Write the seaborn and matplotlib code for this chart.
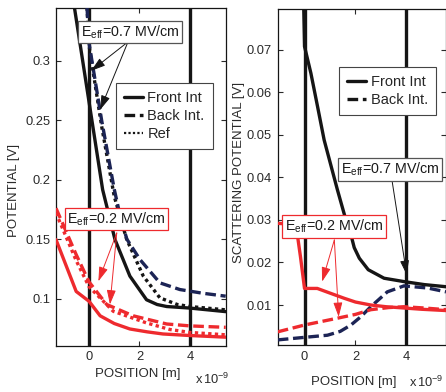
import numpy as np
import pandas as pd
import matplotlib
matplotlib.use("Agg")
import matplotlib.pyplot as plt
from matplotlib.lines import Line2D
import seaborn as sns

# ---------------- data ----------------
# Left panel: POTENTIAL [V] vs POSITION [x1e-9 m]
l_front07_x = [-0.58, -0.38, 0.0, 0.54, 1.03, 1.62, 2.28, 2.7, 3.08, 4.0, 5.42]
l_front07_y = [0.345, 0.3176, 0.2655, 0.1916, 0.1496, 0.1189, 0.099, 0.095, 0.0933, 0.092, 0.089]
l_back07_x = [-0.08, 0.0, 0.5, 1.0, 1.25, 1.5, 2.02, 2.81, 3.6, 4.5, 5.42]
l_back07_y = [0.345, 0.315, 0.25, 0.192, 0.168, 0.150, 0.1328, 0.1132, 0.1076, 0.1045, 0.102]
l_ref07_x = [-0.08, 0.0, 0.5, 1.0, 1.49, 2.15, 2.81, 3.5, 4.0, 5.42]
l_ref07_y = [0.345, 0.313, 0.245, 0.186, 0.150, 0.119, 0.1006, 0.095, 0.0933, 0.0905]
l_front02_x = [-1.31, -0.51, 0.0, 0.44, 1.0, 1.62, 2.3, 2.93, 4.0, 5.42]
l_front02_y = [0.1496, 0.106, 0.0977, 0.0855, 0.079, 0.0744, 0.072, 0.0702, 0.0689, 0.0675]
l_back02_x = [-1.31, -0.51, 0.0, 0.7, 1.75, 3.08, 4.0, 5.42]
l_back02_y = [0.176, 0.137, 0.114, 0.095, 0.0855, 0.0786, 0.077, 0.0758]
l_ref02_x = [-1.31, -0.51, 0.0, 0.96, 2.28, 3.2, 4.0, 5.42]
l_ref02_y = [0.172, 0.132, 0.110, 0.0893, 0.0795, 0.074, 0.0715, 0.0695]

# Right panel: SCATTERING POTENTIAL [V] vs POSITION [x1e-9 m]
r_front07_x = [-0.03, 0.0, 0.25, 0.51, 0.77, 1.29, 1.6, 1.8, 1.95, 2.15, 2.5, 3.12, 3.91, 4.7, 5.55]
r_front07_y = [0.0796, 0.0708, 0.0645, 0.0567, 0.0488, 0.0371, 0.0305, 0.027, 0.0235, 0.021, 0.0183, 0.0163, 0.0155, 0.0148, 0.0143]
r_back07_x = [-1.05, 0.0, 0.9, 1.4, 1.82, 2.2, 2.6, 3.25, 3.9, 4.83, 5.55]
r_back07_y = [0.0018, 0.0024, 0.0029, 0.0038, 0.0053, 0.0072, 0.0096, 0.0131, 0.0145, 0.014, 0.0131]
r_front02_x = [-1.05, -0.5, -0.35, -0.29, -0.16, 0.0, 0.5, 1.0, 1.55, 2.0, 2.6, 3.2, 3.9, 4.6, 5.55]
r_front02_y = [0.0292, 0.029, 0.028, 0.0269, 0.0214, 0.0139, 0.0139, 0.0128, 0.0116, 0.0107, 0.0100, 0.0096, 0.0093, 0.0090, 0.0087]
r_back02_x = [-1.05, 0.0, 1.29, 2.0, 2.6, 3.3, 3.9, 4.7, 5.55]
r_back02_y = [0.0037, 0.0053, 0.0069, 0.0078, 0.0089, 0.0094, 0.0096, 0.0093, 0.0089]

interfaces = [0, 4]
left_yticks = [0.1, 0.15, 0.2, 0.25, 0.3]
left_yticklabels = ["0.1", "0.15", "0.2", "0.25", "0.3"]
right_yticks = [0.01, 0.02, 0.03, 0.04, 0.05, 0.06, 0.07]
right_yticklabels = ["0.01", "0.02", "0.03", "0.04", "0.05", "0.06", "0.07"]
xticks = [0, 2, 4]
legend_labels = ["Front Int", "Back Int.", "Ref"]

# ---------------- style ----------------
sns.set_style("ticks")
plt.rcParams["font.family"] = ["Liberation Sans", "DejaVu Sans"]
plt.rcParams["mathtext.fontset"] = "custom"
plt.rcParams["mathtext.rm"] = "Liberation Sans"
plt.rcParams["mathtext.it"] = "Liberation Sans:italic"
plt.rcParams["mathtext.bf"] = "Liberation Sans:bold"
plt.rcParams["xtick.direction"] = "in"
plt.rcParams["ytick.direction"] = "in"

BLACK = "#151515"
NAVY = "#1c2455"
RED = "#ee2a2e"
LW = 2.4
DASH = (0, (3.2, 1.4))
DOT = (0, (1.0, 1.0))

W, H = 446, 392
fig = plt.figure(figsize=(W / 100, H / 100), dpi=100)

def frac_axes(x0, x1, y0, y1):
    return fig.add_axes([x0 / W, 1 - y1 / H, (x1 - x0) / W, (y1 - y0) / H])

axL = frac_axes(56, 225.7, 8, 345.5)
axR = frac_axes(277.5, 446.5, 9, 345)

def draw(ax, x, y, color, ls, z=3):
    sns.lineplot(x=x, y=y, ax=ax, color=color, lw=LW, linestyle=ls,
                 sort=False, estimator=None, zorder=z)

# left panel
for xv in interfaces:
    axL.axvline(xv, color=BLACK, lw=2.4, zorder=2)
draw(axL, l_ref07_x, l_ref07_y, BLACK, DOT)
draw(axL, l_back07_x, l_back07_y, NAVY, DASH)
draw(axL, l_front07_x, l_front07_y, BLACK, "-")
draw(axL, l_ref02_x, l_ref02_y, RED, DOT)
draw(axL, l_back02_x, l_back02_y, RED, DASH)
draw(axL, l_front02_x, l_front02_y, RED, "-")

# right panel
for xv in interfaces:
    axR.axvline(xv, color=BLACK, lw=2.4, zorder=2)
draw(axR, r_back07_x, r_back07_y, NAVY, DASH)
draw(axR, r_front07_x, r_front07_y, BLACK, "-")
draw(axR, r_back02_x, r_back02_y, RED, DASH)
draw(axR, r_front02_x, r_front02_y, RED, "-")

TICKC = "#2a2a2a"
for ax in (axL, axR):
    ax.tick_params(axis="both", which="both", direction="in", top=True, right=True,
                   length=3.5, width=0.8, labelsize=9.3, colors=TICKC, pad=4)
    for s in ax.spines.values():
        s.set_color(BLACK)
        s.set_linewidth(0.9)
    ax.set_xticks(xticks)
    ax.set_xticklabels([str(t) for t in xticks])

axL.set_xlim(-1.31, 5.42)
axL.set_ylim(0.0605, 0.3445)
axL.set_yticks(left_yticks)
axL.set_yticklabels(left_yticklabels)

axR.set_xlim(-1.06, 5.57)
axR.set_ylim(0.0006, 0.0796)
axR.set_yticks(right_yticks)
axR.set_yticklabels(right_yticklabels)

axL.set_xlabel("POSITION [m]", fontsize=9.5, color=TICKC)
axL.xaxis.set_label_coords(0.483, -0.067)
axL.set_ylabel("POTENTIAL [V]", fontsize=9.5, color=TICKC)
axL.yaxis.set_label_coords(-0.215, 0.46)
axR.set_xlabel("POSITION [m]", fontsize=9.5, color=TICKC)
axR.xaxis.set_label_coords(0.45, -0.092)
axR.set_ylabel("SCATTERING POTENTIAL [V]", fontsize=9.5, color=TICKC)
axR.yaxis.set_label_coords(-0.19, 0.513)

fig.text(195 / W, 1 - 384 / H, r"x$\,$10$^{-9}$", fontsize=9.3, color=TICKC, va="baseline")
fig.text(409 / W, 1 - 387 / H, r"x$\,$10$^{-9}$", fontsize=9.3, color=TICKC, va="baseline")

# legends
hL = [Line2D([], [], color=BLACK, lw=LW, linestyle="-"),
      Line2D([], [], color=BLACK, lw=LW, linestyle=DASH),
      Line2D([], [], color=BLACK, lw=1.6, linestyle=DOT)]
common = dict(loc="upper left", fontsize=10.5, frameon=True, fancybox=False,
              handlelength=1.3, handletextpad=0.3, borderpad=0.55,
              labelspacing=0.28, borderaxespad=0)
legL = axL.legend(hL, legend_labels, bbox_to_anchor=(0.354, 0.778), **common)
legR = axR.legend(hL[:2], legend_labels[:2], bbox_to_anchor=(0.365, 0.827), **common)
for lg in (legL, legR):
    lg.get_frame().set_edgecolor("#444444")
    lg.get_frame().set_linewidth(0.8)
    lg.get_frame().set_facecolor("white")
    lg.get_frame().set_alpha(1)
    lg.set_zorder(6)

# annotations
def box(ax, x, y, txt, ec):
    ax.text(x, y, txt, fontsize=10.3, ha="center", va="center", zorder=8, color="#1a1a1a",
            bbox=dict(boxstyle="square,pad=0.18", fc="white", ec=ec, lw=0.9))

def arrow(ax, tail, tip, color):
    ax.annotate("", xy=tip, xytext=tail, zorder=7,
                arrowprops=dict(arrowstyle="-|>,head_length=0.8,head_width=0.25",
                                color=color, lw=0.7, mutation_scale=11,
                                shrinkA=0, shrinkB=0))

E07 = r"E$_{\mathrm{eff}}$=0.7 MV/cm"
E02 = r"E$_{\mathrm{eff}}$=0.2 MV/cm"

box(axL, 1.64, 0.3244, E07, "#555555")
arrow(axL, (1.545, 0.316), (0.08, 0.2916), BLACK)
arrow(axL, (1.545, 0.316), (0.44, 0.2588), BLACK)
box(axL, 1.09, 0.1668, E02, RED)
arrow(axL, (1.10, 0.1552), (0.37, 0.1145), RED)
arrow(axL, (1.10, 0.1552), (0.83, 0.0950), RED)

box(axR, 3.36, 0.0419, E07, "#555555")
arrow(axR, (3.44, 0.0390), (4.01, 0.0171), BLACK)
box(axR, 1.15, 0.0285, E02, RED)
arrow(axR, (1.17, 0.0253), (0.69, 0.0155), RED)
arrow(axR, (1.17, 0.0253), (1.34, 0.0072), RED)

fig.savefig("out.png", dpi=100)
